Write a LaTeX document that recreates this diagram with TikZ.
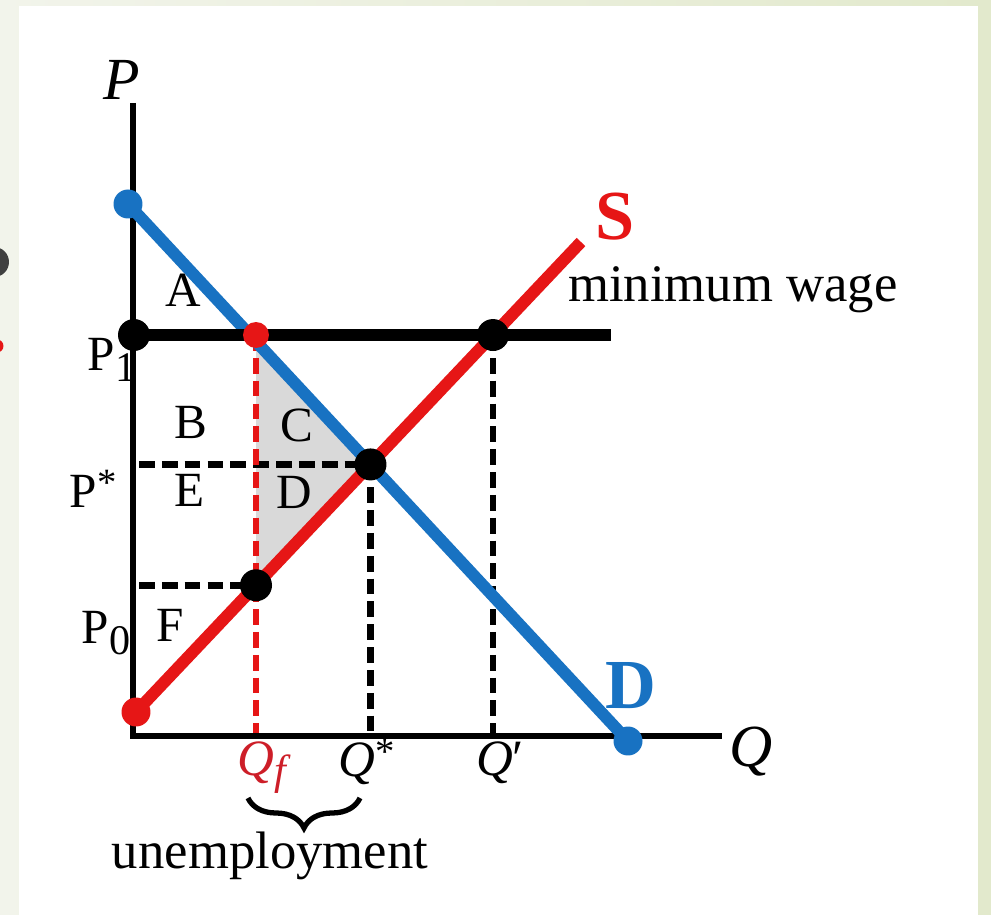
\documentclass[tikz,border=0pt]{standalone}
\usepackage{fontspec}
\setmainfont{Liberation Serif}
\usepackage{xcolor}
\usetikzlibrary{decorations.pathreplacing, calc}
\definecolor{dblue}{RGB}{24,114,194}
\definecolor{sred}{RGB}{230,22,22}
\definecolor{qred}{RGB}{205,30,40}
\definecolor{bgleft}{RGB}{242,244,235}
\definecolor{bgright}{RGB}{226,233,204}
\definecolor{welfare}{RGB}{217,217,217}
\tikzstyle{axisline} = [line width=3.3pt]
\tikzstyle{schedule} = [line width=6.8pt]
\tikzstyle{guide}    = [line width=3.8pt, dash pattern=on 9pt off 4pt]
\tikzstyle{dot}      = [circle, fill, inner sep=0pt, minimum size=0.64cm]
\tikzstyle{enddot}   = [circle, fill, inner sep=0pt, minimum size=0.58cm]
\tikzstyle{arealbl}  = [inner sep=0pt, font=\fontsize{28}{30}\selectfont]
\tikzstyle{pricelbl} = [inner sep=0pt, font=\fontsize{28}{30}\selectfont]
\tikzstyle{qtylbl}   = [inner sep=0pt, font=\fontsize{29}{31}\selectfont\itshape]
\tikzstyle{axislbl}  = [inner sep=0pt, font=\fontsize{34}{36}\selectfont\itshape]
\tikzstyle{curvelbl} = [inner sep=0pt, font=\fontsize{40}{42}\selectfont\bfseries]
\tikzstyle{bigtxt}   = [inner sep=0pt, font=\fontsize{30}{32}\selectfont]
\newcommand{\lowsub}[1]{\raisebox{-6.5pt}{\fontsize{24}{24}\selectfont #1}}
\newcommand{\highstar}{\raisebox{7pt}{\fontsize{22}{22}\selectfont\upshape *}}

\begin{document}
\begin{tikzpicture}[x=0.02cm, y=-0.02cm]
    \clip (0,0) rectangle (991,915);
    % slide background
    \fill[left color=bgleft, right color=bgright] (0,0) rectangle (991,915);
    \fill[white] (19,6) rectangle (978,915);
    \fill[black!75] (-6,262) circle[radius=0.3cm];
    \fill[sred] (-3,346) circle[radius=0.13cm];

    % axes and schedules
    \coordinate (origin) at (133,736);
    \coordinate (ptop) at (133,103);
    \coordinate (qend) at (722,736);
    \coordinate (dtop) at (128,204);
    \coordinate (dbot) at (628,741);
    \coordinate (sbot) at (136,712);
    \coordinate (stop) at (581,242);
    \coordinate (wleft) at (134,335);
    \coordinate (wright) at (611,335);
    \coordinate (qfwage) at (256,335);
    \coordinate (qfaxis) at (256,736);
    \coordinate (eq) at (intersection of dtop--dbot and sbot--stop);
    \coordinate (qfdem) at (intersection of dtop--dbot and qfwage--qfaxis);
    \coordinate (qfsup) at (intersection of sbot--stop and qfwage--qfaxis);
    \coordinate (qpwage) at (intersection of sbot--stop and wleft--wright);
    \coordinate (qsaxis) at (eq |- origin);
    \coordinate (qpaxis) at (qpwage |- origin);
    \coordinate (pstar) at ($(eq -| origin)+(6,0)$);
    \coordinate (pzero) at ($(qfsup -| origin)+(6,0)$);

    \fill[welfare] (qfdem) -- (eq) -- (qfsup) -- cycle;
    \draw[guide] (pstar) -- (eq);
    \draw[guide] (pzero) -- (qfsup);
    \draw[guide] (eq) -- (qsaxis);
    \draw[guide] (qpwage) -- (qpaxis);
    \draw[guide, sred] (qfwage) -- (qfaxis);
    \draw[axisline] (ptop) -- (origin) -- (qend);
    \draw[schedule, dblue] (dtop) -- (dbot);
    \draw[schedule, sred] (sbot) -- (stop);
    \draw[schedule] (wleft) -- (wright);

    \node[enddot, dblue] (dtopdot) at (dtop) {};
    \node[enddot, dblue] (dbotdot) at (dbot) {};
    \node[enddot, sred] (sbotdot) at (sbot) {};
    \node[dot, black] (p1dot) at (wleft) {};
    \node[dot, black] (qpdot) at (qpwage) {};
    \node[dot, black] (eqdot) at (eq) {};
    \node[dot, black] (p0dot) at (qfsup) {};
    \node[enddot, sred, minimum size=0.52cm] (qfdot) at (qfwage) {};

    % labels
    \node[axislbl] (plbl) at (122,80) {P};
    \node[axislbl] (qlbl) at (751,752) {Q};
    \node[curvelbl, sred] (slbl) at (615,217) {S};
    \node[curvelbl, dblue] (dlbl) at (631,686) {D};
    \node[bigtxt] (wagelbl) at (733,290) {minimum wage};
    \node[arealbl] (albl) at (183,290) {A};
    \node[arealbl] (blbl) at (191,422) {B};
    \node[arealbl] (clbl) at (297,425) {C};
    \node[arealbl] (elbl) at (190,490) {E};
    \node[arealbl] (dalbl) at (294,492) {D};
    \node[arealbl] (flbl) at (170,625) {F};
    \node[pricelbl] (p1lbl) at (112,360) {P\lowsub{1}};
    \node[pricelbl] (pslbl) at (93,489) {P\highstar};
    \node[pricelbl] (p0lbl) at (106,633) {P\lowsub{0}};
    \node[qtylbl, qred] (qflbl) at (262,768) {Q\raisebox{-5pt}{\fontsize{24}{24}\selectfont f}};
    \node[qtylbl] (qslbl) at (367,762) {Q\highstar};
    \node[qtylbl] (qplbl) at (500,763) {Q{\upshape ′}};

    \coordinate (bleft) at (248,798);
    \coordinate (bright) at (360,798);
    \draw[line width=3pt, decorate, decoration={brace, amplitude=0.6cm}] (bright) -- (bleft);
    \node[bigtxt] (unemp) at (270,856) {unemployment};
\end{tikzpicture}
\end{document}
